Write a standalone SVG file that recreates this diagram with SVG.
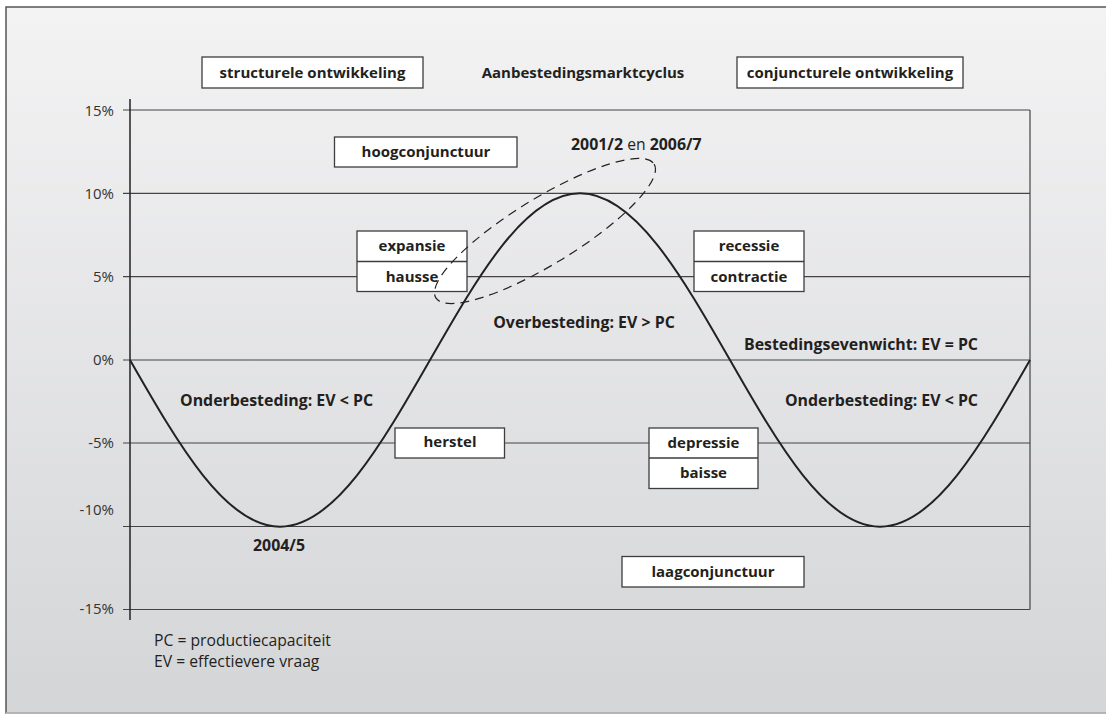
<svg xmlns="http://www.w3.org/2000/svg" width="1106" height="715" viewBox="0 0 1106 715">
  <defs>
    <linearGradient id="bg" x1="0" y1="0" x2="0" y2="1">
      <stop offset="0" stop-color="#f3f3f4"/>
      <stop offset="1" stop-color="#d4d5d7"/>
    </linearGradient>
    <style>
      .b { font-family: "Open Sans", "Liberation Sans", sans-serif; font-weight: 700; font-size: 15px; fill: #231f20; }
      .l { font-size: 15.9px; }
      .r { font-family: "Open Sans", "Liberation Sans", sans-serif; font-weight: 400; font-size: 15.7px; fill: #231f20; }
      .ax { font-family: "Open Sans", "Liberation Sans", sans-serif; font-weight: 400; font-size: 15px; fill: #333333; text-anchor: end; }
      .c { text-anchor: middle; }
      .e { text-anchor: end; }
      .box { fill: #ffffff; stroke: #3d3d3d; stroke-width: 1.3; }
      .div { stroke: #3d3d3d; stroke-width: 1.3; }
      .grid { stroke: #444444; stroke-width: 1.2; fill: none; }
    </style>
  </defs>

  <rect x="0" y="0" width="1106" height="715" fill="#ffffff"/>
  <rect x="6" y="7" width="1110" height="706" fill="url(#bg)" stroke="#4a4a4a" stroke-width="1.4"/>
  <line x1="6" y1="713" x2="1106" y2="713" stroke="#c8c9cb" stroke-width="1.4"/>

  <g id="axes">
    <line class="grid" x1="123" y1="110" x2="1030" y2="110"/>
    <line class="grid" x1="123" y1="193.3" x2="1030" y2="193.3"/>
    <line class="grid" x1="123" y1="276.7" x2="1030" y2="276.7"/>
    <line class="grid" x1="123" y1="360" x2="1030" y2="360" stroke-width="1.6" stroke="#333333"/>
    <line class="grid" x1="123" y1="443" x2="1030" y2="443" stroke="#5a5a5a" stroke-width="1.4"/>
    <line class="grid" x1="123" y1="526.5" x2="1030" y2="526.5" stroke="#5a5a5a" stroke-width="1.4"/>
    <line class="grid" x1="123" y1="609.5" x2="1030" y2="609.5"/>
    <line x1="130" y1="99" x2="130" y2="620" stroke="#222222" stroke-width="1.5"/>
    <line class="grid" x1="1030" y1="110" x2="1030" y2="609.5"/>
    <text class="ax" x="114" y="115.5">15%</text>
    <text class="ax" x="114" y="198.5">10%</text>
    <text class="ax" x="114" y="282">5%</text>
    <text class="ax" x="114" y="365">0%</text>
    <text class="ax" x="114" y="448">-5%</text>
    <text class="ax" x="114" y="514.5">-10%</text>
    <text class="ax" x="114" y="613.5">-15%</text>
  </g>

  <g id="header">
    <g id="structurele">
      <rect class="box" x="202" y="57" width="221" height="31"/>
      <text class="b c" x="312.5" y="77.5">structurele ontwikkeling</text>
    </g>
    <g id="titel">
      <text class="b c" x="583" y="77.5">Aanbestedingsmarktcyclus</text>
    </g>
    <g id="conjuncturele">
      <rect class="box" x="737" y="57" width="226" height="31"/>
      <text class="b c" x="850" y="77.5">conjuncturele ontwikkeling</text>
    </g>
  </g>

  <g id="hoogconjunctuur">
    <rect class="box" x="334.5" y="137" width="182.5" height="30"/>
    <text class="b c" x="426" y="156.5">hoogconjunctuur</text>
  </g>

  <g id="expansie-hausse">
    <rect class="box" x="357" y="231" width="110" height="60.5"/>
    <line class="div" x1="357" y1="261.5" x2="467" y2="261.5"/>
    <text class="b c" x="412" y="251">expansie</text>
    <text class="b c" x="412" y="281.5">hausse</text>
  </g>

  <g id="recessie-contractie">
    <rect class="box" x="694" y="231" width="110" height="60.5"/>
    <line class="div" x1="694" y1="261.5" x2="804" y2="261.5"/>
    <text class="b c" x="749" y="251">recessie</text>
    <text class="b c" x="749" y="281.5">contractie</text>
  </g>

  <g id="herstel">
    <rect class="box" x="395" y="428" width="109.5" height="30"/>
    <text class="b c" x="450" y="447">herstel</text>
  </g>

  <g id="depressie-baisse">
    <rect class="box" x="649" y="428" width="109" height="60.5"/>
    <line class="div" x1="649" y1="458" x2="758" y2="458"/>
    <text class="b c" x="703.5" y="447.5">depressie</text>
    <text class="b c" x="703.5" y="477.5">baisse</text>
  </g>

  <g id="laagconjunctuur">
    <rect class="box" x="622" y="556.5" width="182" height="30.5"/>
    <text class="b c" x="713" y="576.5">laagconjunctuur</text>
  </g>

  <g id="labels">
    <text class="b l" x="571" y="149.5">2001/2 <tspan class="r" font-size="15.9px">en</tspan> 2006/7</text>
    <text class="b l c" x="584" y="327.5">Overbesteding: EV &gt; PC</text>
    <text class="b l e" x="978" y="350">Bestedingsevenwicht: EV = PC</text>
    <text class="b l" x="180" y="406">Onderbesteding: EV &lt; PC</text>
    <text class="b l e" x="978" y="406">Onderbesteding: EV &lt; PC</text>
    <text class="b l c" x="279" y="551">2004/5</text>
  </g>

  <g id="legenda">
    <text class="r" x="154" y="645.5">PC = productiecapaciteit</text>
    <text class="r" x="154" y="667">EV = effectievere vraag</text>
  </g>

  <g id="connectors">
    <path d="M130,360 C178.92,445.38 225.71,526.67 280,526.67 C334.29,526.67 381.08,445.38 430,360 C478.92,274.62 525.71,193.33 580,193.33 C634.29,193.33 681.08,274.62 730,360 C778.92,445.38 825.71,526.67 880,526.67 C934.29,526.67 981.08,445.38 1030,360" fill="none" stroke="#222222" stroke-width="2"/>
    <ellipse cx="545" cy="231" rx="128" ry="33" transform="rotate(-31.5 545 231)" fill="none" stroke="#222222" stroke-width="1.2" stroke-dasharray="9 6"/>
  </g>
</svg>
